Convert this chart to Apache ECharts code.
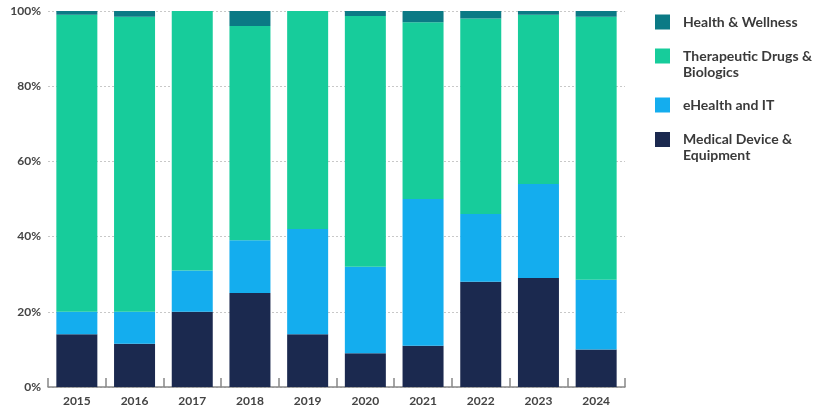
<!DOCTYPE html>
<html>
<head>
<meta charset="utf-8">
<script src="https://cdn.jsdelivr.net/npm/echarts@6/dist/echarts.min.js"></script>
<style>html,body{margin:0;padding:0;background:#fff;}#c{width:827px;height:417px;}</style>
</head>
<body>
<div id="c"></div>
<script>
const years = ['2015','2016','2017','2018','2019','2020','2021','2022','2023','2024'];
const medical = [14, 11.5, 20, 25, 14, 9, 11, 28, 29, 10];
const ehealth = [6, 8.5, 11, 14, 28, 23, 39, 18, 25, 18.5];
const therapeutic = [79, 78.5, 69, 57, 58, 66.7, 47, 52, 45, 70];
const health = [1, 1.5, 0, 4, 0, 1.3, 3, 2, 1, 1.5];
const names = ['Health & Wellness', 'Therapeutic Drugs & Biologics', 'eHealth and IT', 'Medical Device & Equipment'];
const legendLabels = {
  'Health & Wellness': 'Health & Wellness',
  'Therapeutic Drugs & Biologics': '\nTherapeutic Drugs &\nBiologics',
  'eHealth and IT': 'eHealth and IT',
  'Medical Device & Equipment': '\nMedical Device &\nEquipment'
};
const colors = {
  'Health & Wellness': '#0b7a85',
  'Therapeutic Drugs & Biologics': '#17cc9b',
  'eHealth and IT': '#14adee',
  'Medical Device & Equipment': '#1b294f'
};
const font = 'Lato';
const chart = echarts.init(document.getElementById('c'), null, {renderer: 'canvas'});
function legendFor(name, top) {
  return {
    left: 655, top: top, padding: 0, orient: 'vertical',
    selectedMode: false, itemWidth: 15, itemHeight: 15, icon: 'rect',
    data: [name],
    formatter: n => legendLabels[n],
    textStyle: {fontFamily: font, fontWeight: 'bold', fontSize: 14, color: '#3a3a3a', lineHeight: 16,
      padding: [0, 0, 0, 8]}
  };
}
const seriesData = [
  ['Medical Device & Equipment', medical],
  ['eHealth and IT', ehealth],
  ['Therapeutic Drugs & Biologics', therapeutic],
  ['Health & Wellness', health]
];
chart.setOption({
  animation: false,
  color: seriesData.map(s => colors[s[0]]),
  grid: {left: 48, right: 202, top: 11, bottom: 30},
  legend: [
    legendFor(names[0], 14),
    legendFor(names[1], 32),
    legendFor(names[2], 97),
    legendFor(names[3], 115.5)
  ],
  xAxis: {
    type: 'category', data: years, boundaryGap: true,
    axisLine: {lineStyle: {color: '#888', width: 1.5}},
    axisTick: {show: true, inside: true, length: 9, interval: 0, lineStyle: {color: '#888', width: 1.5}},
    axisLabel: {fontFamily: font, fontWeight: 'bold', fontSize: 12, color: '#444', margin: 8}
  },
  yAxis: {
    type: 'value', min: 0, max: 100, interval: 20,
    axisLine: {show: false}, axisTick: {show: false},
    axisLabel: {formatter: '{value}%', fontFamily: font, fontWeight: 'bold', fontSize: 12, color: '#444', margin: 7},
    splitLine: {lineStyle: {color: '#c8c8c8', type: [2, 2], width: 1}}
  },
  series: seriesData.map(s => ({
    name: s[0], type: 'bar', stack: 'total', barWidth: 41,
    itemStyle: {color: colors[s[0]]},
    data: s[1]
  }))
});
</script>
</body>
</html>
